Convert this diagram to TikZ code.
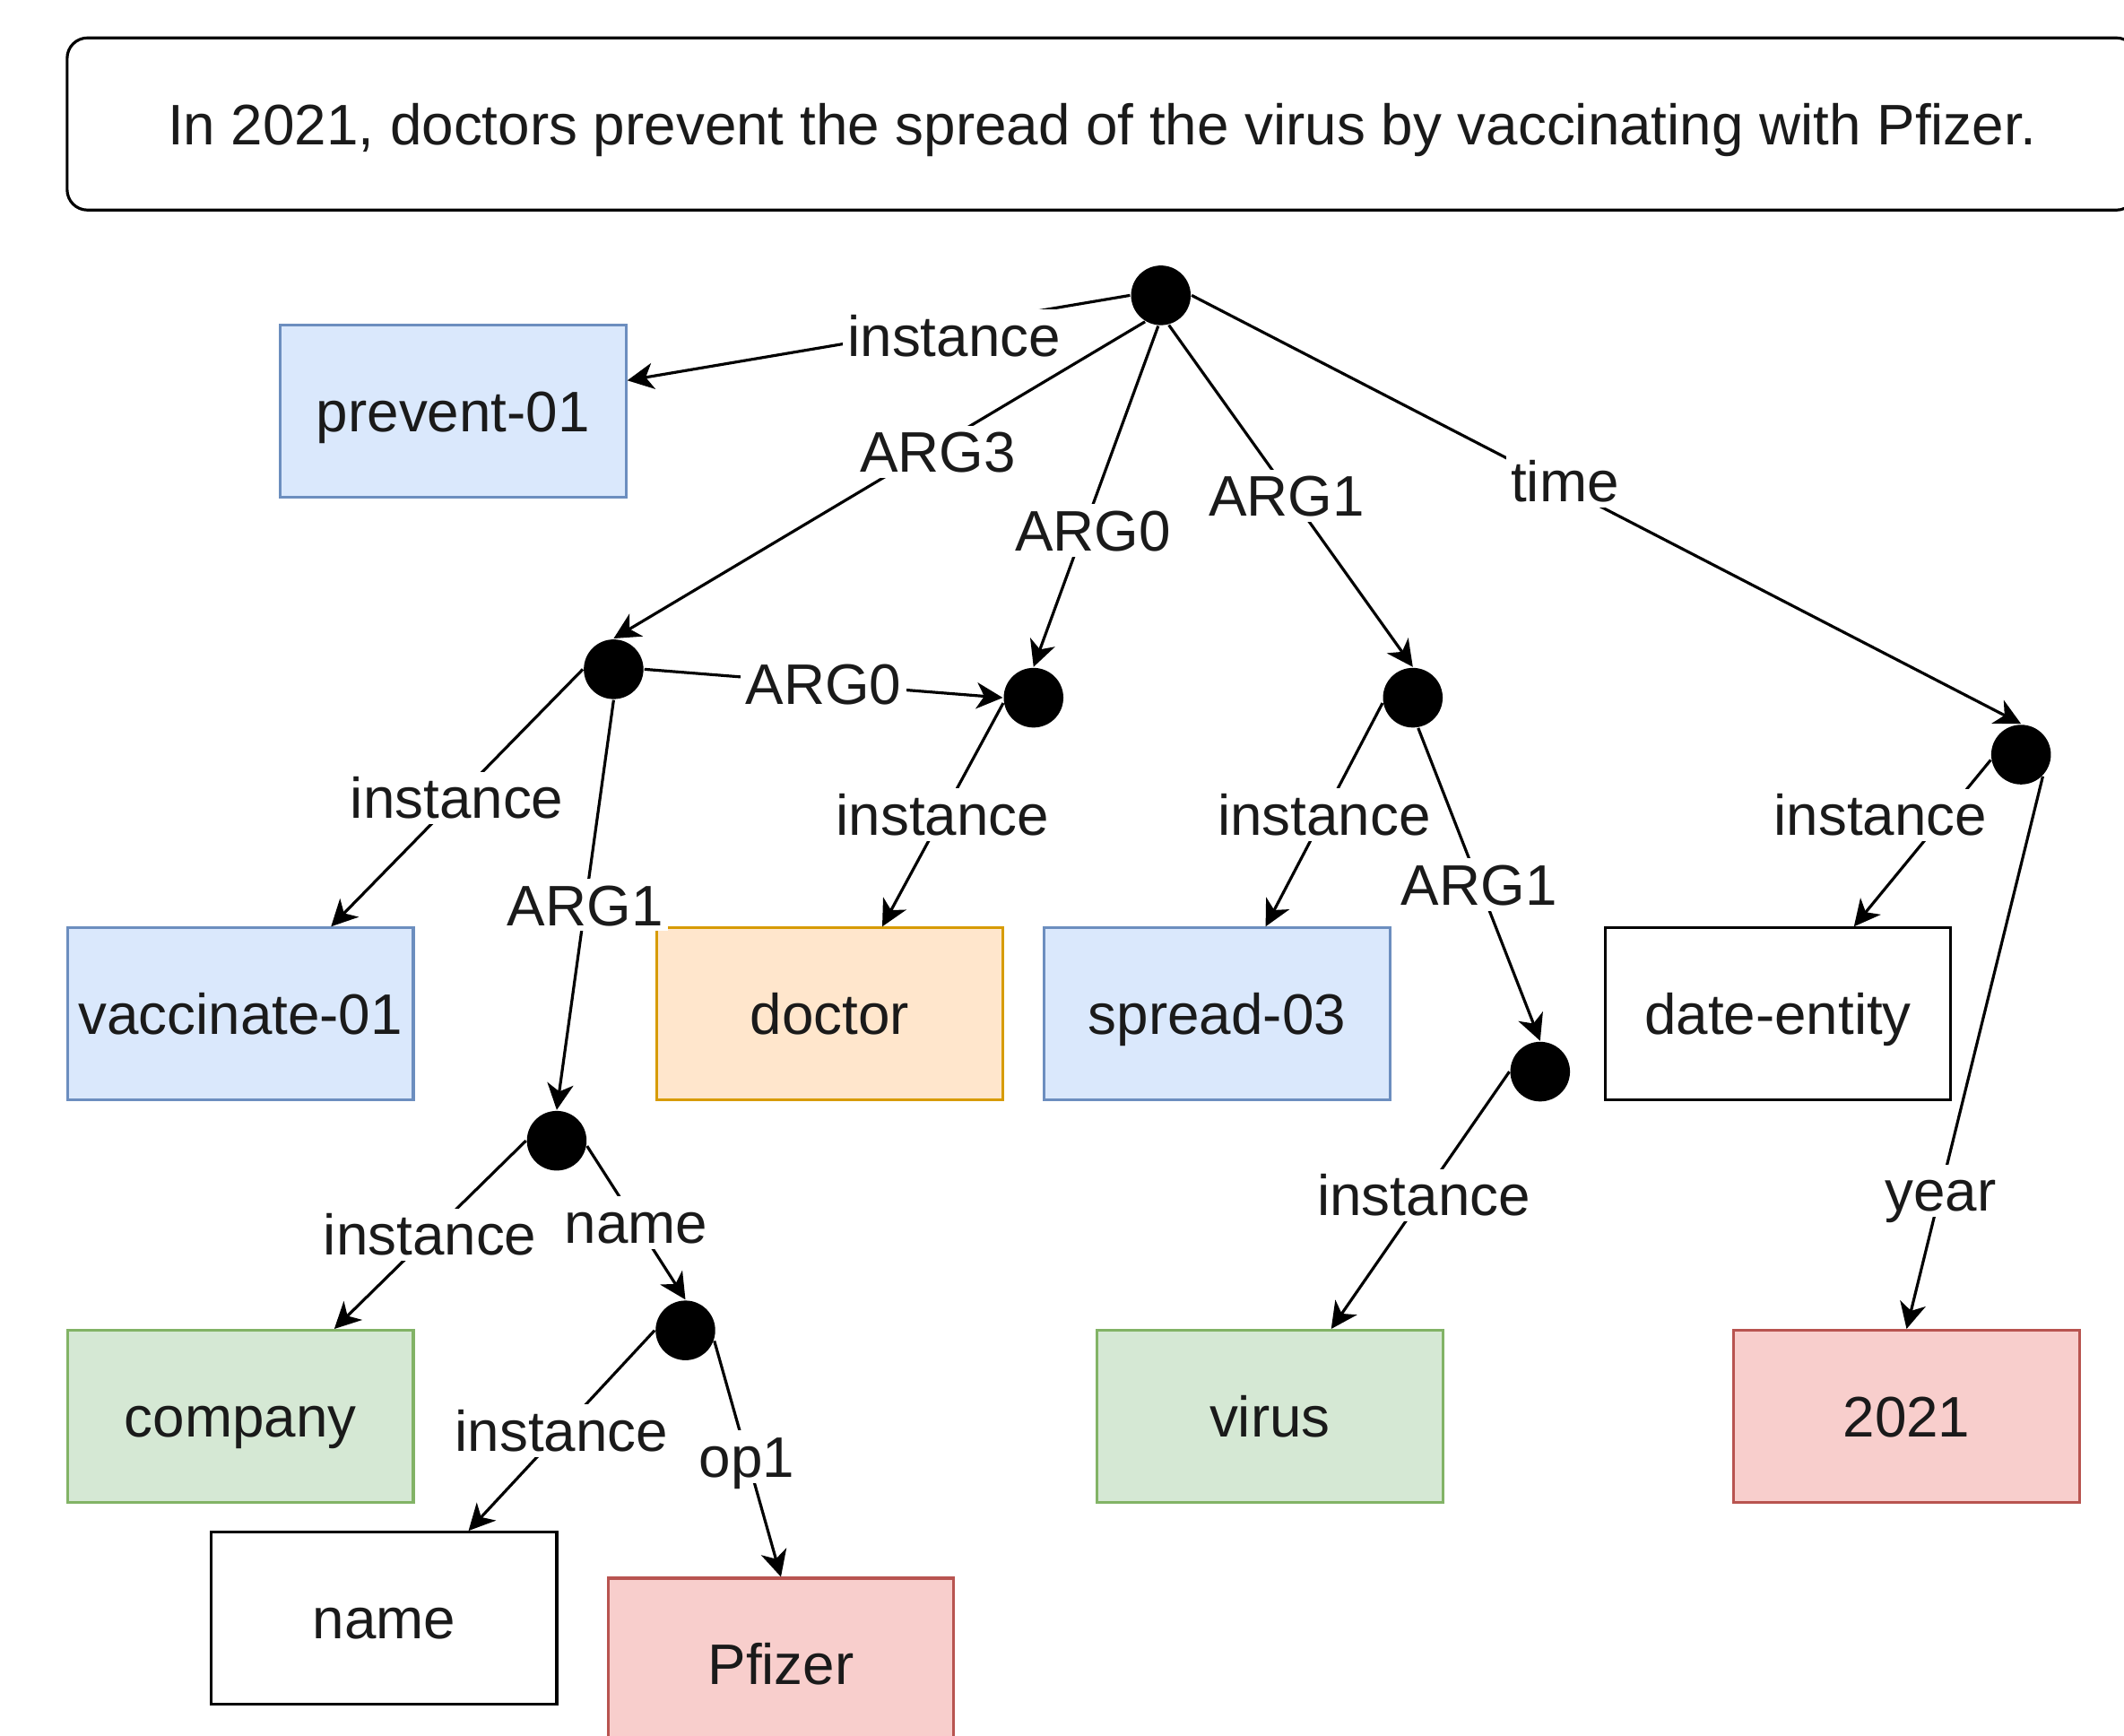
\documentclass[tikz,border=0pt]{standalone}
\usepackage{fontspec}
\setmainfont{Liberation Sans}
\usetikzlibrary{arrows.meta}
\definecolor{bfill}{HTML}{DAE8FC}\definecolor{bline}{HTML}{6C8EBF}
\definecolor{ofill}{HTML}{FFE6CC}\definecolor{oline}{HTML}{D79B00}
\definecolor{gfill}{HTML}{D5E8D4}\definecolor{gline}{HTML}{82B366}
\definecolor{rfill}{HTML}{F8CECC}\definecolor{rline}{HTML}{B85450}
\definecolor{txt}{HTML}{1A1A1A}
\tikzset{
  dot/.style={circle,fill=black,minimum size=0.44cm,inner sep=0pt},
  box/.style={rectangle,draw,line width=0.6pt,minimum width=2.55cm,minimum height=1.27cm,inner sep=0pt,text=txt,font=\fontsize{12pt}{14pt}\selectfont,text height=0.88em,text depth=0.02em},
  bluebox/.style={box,fill=bfill,draw=bline},
  orangebox/.style={box,fill=ofill,draw=oline},
  greenbox/.style={box,fill=gfill,draw=gline},
  redbox/.style={box,fill=rfill,draw=rline},
  whitebox/.style={box,fill=white,draw=black},
  edge/.style={draw,line width=0.6pt,-{Stealth[length=5.5pt,width=5.5pt,inset=1.6pt]}},
  lbl/.style={fill=white,inner sep=1pt,text=txt,font=\fontsize{12pt}{14pt}\selectfont,text height=0.88em,text depth=0.02em},
}
\begin{document}
\begin{tikzpicture}[x=0.01cm,y=-0.01cm]
\useasboundingbox (0,0) rectangle (1568,1281);
\node[draw,line width=0.6pt,rounded corners=0.15cm,minimum width=15.27cm,minimum height=1.27cm,inner sep=0pt,text=txt,font=\fontsize{12pt}{14pt}\selectfont,text height=0.88em,text depth=0.02em] (hdr) at (813.5,91.5) {In 2021, doctors prevent the spread of the virus by vaccinating with Pfizer.};
% concept circles
\node[dot] (root) at (857,218) {};
\node[dot] (v) at (453,494) {};
\node[dot] (d) at (763,515) {};
\node[dot] (s) at (1043,515) {};
\node[dot] (t) at (1492,557) {};
\node[dot] (c) at (411,842) {};
\node[dot] (n) at (506,982) {};
\node[dot] (vi) at (1137,791) {};
% boxes
\node[bluebox] (prev) at (334.5,303.5) {prevent-01};
\node[bluebox] (vacc) at (177.5,748.5) {vaccinate-01};
\node[orangebox] (doc) at (612.5,748.5) {doctor};
\node[bluebox] (spr) at (898.5,748.5) {spread-03};
\node[whitebox] (date) at (1312.5,748.5) {date-entity};
\node[greenbox] (comp) at (177.5,1045.5) {company};
\node[greenbox] (vir) at (937.5,1045.5) {virus};
\node[redbox] (yr) at (1407.5,1045.5) {2021};
\node[whitebox] (nm) at (283.5,1194.5) {name};
\node[redbox] (pf) at (576.5,1228.5) {Pfizer};
% edges
\draw[edge] (root.west) -- (prev.10) node[lbl,pos=0.35,yshift=-0.08cm] {instance};
\draw[edge] (root.239) -- (v.north) node[lbl,pos=0.39,yshift=-0.05cm] {ARG3};
\draw[edge] (root.265) -- (d.north) node[lbl,pos=0.6,xshift=0.07cm] {ARG0};
\draw[edge] (root.285) -- (s.north) node[lbl,pos=0.5,xshift=-0.03cm] {ARG1};
\draw[edge] (root.east) -- (t.north) node[lbl,pos=0.45,yshift=0.05cm] {time};
\draw[edge] (v.west) -- (vacc.44) node[lbl,pos=0.5] {instance};
\draw[edge] (v.east) -- (d.west) node[lbl,pos=0.5] {ARG0};
\draw[edge] (v.south) -- (c.north) node[lbl,pos=0.5] {ARG1};
\draw[edge] (d.190) -- (doc.59) node[lbl,pos=0.5] {instance};
\draw[edge] (s.190) -- (spr.61) node[lbl,pos=0.5] {instance};
\draw[edge] (s.-80) -- (vi.north) node[lbl,pos=0.5] {ARG1};
\draw[edge] (t.190) -- (date.49) node[lbl,pos=0.33,xshift=-0.48cm] {instance};
\draw[edge] (t.-45) -- (yr.north) node[lbl,pos=0.75] {year};
\draw[edge] (c.west) -- (comp.43) node[lbl,pos=0.5] {instance};
\draw[edge] (c.-10) -- (n.north) node[lbl,pos=0.5] {name};
\draw[edge] (n.west) -- (nm.46) node[lbl,pos=0.5] {instance};
\draw[edge] (n.-20) -- (pf.north) node[lbl,pos=0.49] {op1};
\draw[edge] (vi.west) -- (vir.55) node[lbl,pos=0.48] {instance};
\end{tikzpicture}
\end{document}
